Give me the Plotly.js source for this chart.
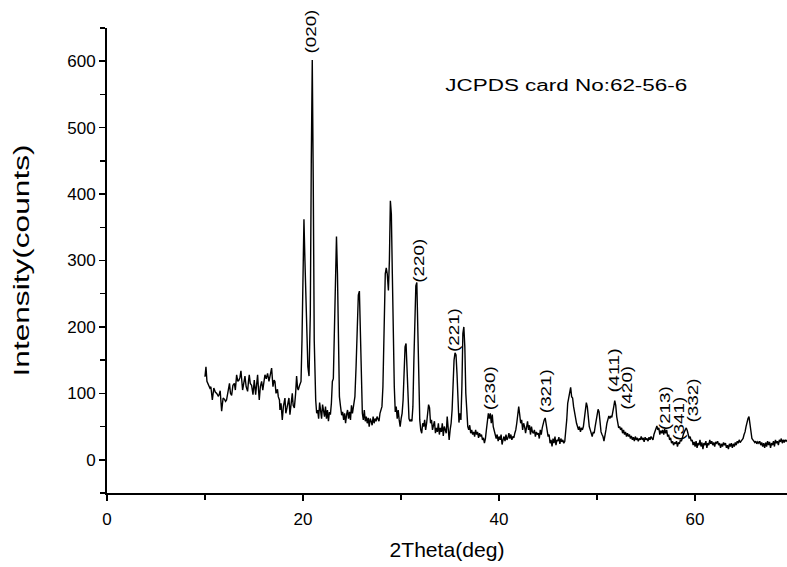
<!DOCTYPE html>
<html>
<head>
<meta charset="utf-8">
<script src="https://cdn.plot.ly/plotly-3.0.1.min.js"></script>
<style>html,body{margin:0;padding:0;background:#fff;}#chart{width:787px;height:567px;}</style>
</head>
<body>
<div id="chart"></div>
<script>
const twoTheta = [
10.00,10.10,10.20,10.35,10.50,10.60,10.75,10.90,11.05,11.20,
11.35,11.45,11.55,11.70,11.85,12.00,12.10,12.20,12.35,12.50,
12.60,12.72,12.85,13.00,13.10,13.23,13.35,13.47,13.57,13.67,
13.84,13.95,14.08,14.20,14.35,14.45,14.52,14.62,14.76,14.90,
15.03,15.17,15.30,15.37,15.47,15.54,15.65,15.78,15.90,16.00,
16.12,16.25,16.39,16.53,16.65,16.80,16.94,17.05,17.14,17.25,
17.31,17.40,17.48,17.60,17.65,17.76,17.89,18.00,18.16,18.25,
18.37,18.47,18.57,18.67,18.80,18.91,19.00,19.12,19.25,19.35,
19.45,19.52,19.65,19.80,19.90,20.00,20.10,20.20,20.35,20.50,
20.62,20.75,20.85,20.95,21.05,21.15,21.30,21.40,21.50,21.60,
21.70,21.80,21.90,22.00,22.10,22.20,22.30,22.40,22.50,22.60,
22.70,22.80,22.90,23.00,23.10,23.20,23.30,23.42,23.52,23.62,
23.72,23.82,23.95,24.05,24.15,24.25,24.35,24.45,24.55,24.65,
24.75,24.85,24.95,25.05,25.15,25.30,25.42,25.55,25.65,25.76,
25.86,25.96,26.06,26.16,26.26,26.36,26.46,26.56,26.66,26.76,
26.86,26.96,27.06,27.16,27.26,27.36,27.46,27.56,27.66,27.76,
27.86,27.96,28.06,28.16,28.28,28.40,28.50,28.60,28.72,28.82,
28.92,29.02,29.12,29.22,29.32,29.42,29.52,29.62,29.72,29.82,
29.92,30.02,30.12,30.22,30.32,30.42,30.52,30.62,30.72,30.82,
30.92,31.02,31.12,31.22,31.32,31.42,31.52,31.62,31.72,31.82,
31.92,32.02,32.12,32.22,32.32,32.42,32.52,32.62,32.72,32.82,
32.92,33.02,33.12,33.22,33.32,33.42,33.52,33.62,33.72,33.82,
33.92,34.02,34.12,34.22,34.32,34.42,34.52,34.62,34.72,34.82,
34.92,35.02,35.12,35.22,35.32,35.42,35.52,35.62,35.72,35.82,
35.92,36.02,36.12,36.22,36.32,36.42,36.52,36.62,36.72,36.82,
36.92,37.02,37.12,37.22,37.32,37.42,37.52,37.62,37.72,37.82,
37.92,38.02,38.12,38.22,38.32,38.42,38.52,38.62,38.72,38.82,
38.92,39.02,39.12,39.22,39.32,39.42,39.52,39.62,39.72,39.82,
39.92,40.02,40.12,40.22,40.32,40.42,40.52,40.62,40.72,40.82,
40.92,41.02,41.12,41.22,41.32,41.42,41.52,41.62,41.72,41.82,
41.92,42.02,42.12,42.22,42.32,42.42,42.52,42.62,42.72,42.82,
42.92,43.02,43.12,43.22,43.32,43.42,43.52,43.62,43.72,43.82,
43.92,44.02,44.12,44.22,44.32,44.42,44.52,44.62,44.72,44.82,
44.92,45.02,45.12,45.22,45.32,45.42,45.52,45.62,45.72,45.82,
45.92,46.02,46.12,46.22,46.32,46.42,46.52,46.62,46.72,46.82,
46.92,47.02,47.12,47.22,47.32,47.42,47.52,47.62,47.72,47.82,
47.92,48.02,48.12,48.22,48.32,48.42,48.52,48.62,48.72,48.82,
48.92,49.02,49.12,49.22,49.32,49.42,49.52,49.62,49.72,49.82,
49.92,50.02,50.12,50.22,50.32,50.42,50.52,50.62,50.72,50.82,
50.92,51.02,51.12,51.22,51.32,51.42,51.52,51.62,51.72,51.82,
51.92,52.02,52.12,52.22,52.32,52.42,52.52,52.62,52.72,52.82,
52.92,53.02,53.12,53.22,53.32,53.42,53.52,53.62,53.72,53.82,
53.92,54.02,54.12,54.22,54.32,54.42,54.52,54.62,54.72,54.82,
54.92,55.02,55.12,55.22,55.32,55.42,55.52,55.62,55.72,55.82,
55.92,56.02,56.12,56.22,56.32,56.42,56.52,56.62,56.72,56.82,
56.92,57.02,57.12,57.22,57.32,57.42,57.52,57.62,57.72,57.82,
57.92,58.02,58.12,58.22,58.32,58.42,58.52,58.62,58.72,58.82,
58.92,59.02,59.12,59.22,59.32,59.42,59.52,59.62,59.72,59.82,
59.92,60.02,60.12,60.22,60.32,60.42,60.52,60.62,60.72,60.82,
60.92,61.02,61.12,61.22,61.32,61.42,61.52,61.62,61.72,61.82,
61.92,62.02,62.12,62.22,62.32,62.42,62.52,62.62,62.72,62.82,
62.92,63.02,63.12,63.22,63.32,63.42,63.52,63.62,63.72,63.82,
63.92,64.02,64.12,64.22,64.32,64.42,64.52,64.62,64.72,64.82,
64.92,65.02,65.12,65.22,65.32,65.42,65.52,65.62,65.72,65.82,
65.92,66.02,66.12,66.22,66.32,66.42,66.52,66.62,66.72,66.82,
66.92,67.02,67.12,67.22,67.32,67.42,67.52,67.62,67.72,67.82,
67.92,68.02,68.12,68.22,68.32,68.42,68.52,68.62,68.72,68.82,
68.92,69.02,69.12,69.22,69.32,69.42
];
const counts = [
125,140,118,113,108,110,90,108,102,100,
96,98,104,73,93,91,88,90,105,115,
100,97,112,115,105,128,118,120,124,134,
105,118,126,110,103,120,128,115,112,98,
120,98,115,128,104,90,110,118,105,120,
128,122,130,118,125,138,110,120,118,100,
103,106,95,90,75,85,60,80,93,70,
78,90,93,68,85,100,82,78,100,126,
108,105,112,118,180,300,362,300,200,140,
126,220,450,602,420,180,90,70,75,62,
86,68,62,83,70,65,80,62,75,58,
72,68,85,118,122,200,300,336,280,160,
95,82,67,72,60,70,55,68,75,62,
72,60,82,70,78,95,140,230,248,254,
200,110,70,60,75,58,65,55,63,50,
62,58,52,65,55,62,58,65,60,58,
70,75,80,110,200,280,289,280,255,300,
390,370,280,180,110,72,80,62,75,60,
50,62,70,90,140,170,175,140,90,62,
58,60,58,80,150,240,262,267,200,110,
60,45,40,55,50,60,45,55,75,83,
78,55,60,45,52,58,40,48,42,55,
38,48,42,55,36,50,45,40,65,38,
30,45,55,75,120,150,161,158,130,75,
56,70,60,110,190,200,170,100,60,50,
45,52,40,45,38,42,35,45,38,42,
33,40,35,38,30,33,25,32,45,60,
70,62,70,55,68,50,45,40,32,38,
28,35,30,38,23,30,35,28,38,30,
33,40,32,38,30,35,33,40,45,55,
70,80,68,55,60,45,55,50,40,48,
58,45,52,38,50,42,40,45,35,42,
38,40,32,45,38,48,55,60,63,52,
45,35,38,25,30,20,32,25,35,22,
30,28,34,24,32,27,30,25,28,40,
60,85,95,100,109,95,93,80,70,65,
55,50,45,50,42,48,45,50,60,75,
86,80,62,50,45,38,35,42,40,50,
60,70,76,72,55,42,38,35,28,35,
45,55,62,66,62,66,64,70,80,89,
82,65,55,48,50,45,48,40,45,38,
42,35,40,35,38,32,36,30,34,28,
35,30,33,28,32,30,35,30,33,27,
34,30,32,28,34,30,35,32,30,38,
42,48,51,45,48,38,44,40,45,38,
46,40,45,35,38,30,33,25,28,22,
26,24,28,20,26,24,30,28,35,38,
42,45,48,44,38,32,35,28,30,22,
27,20,28,18,25,22,30,20,26,16,
25,22,28,18,25,22,30,24,28,22,
26,20,27,25,28,22,25,18,24,20,
26,22,25,18,22,16,24,20,25,18,
24,20,26,22,28,25,30,26,28,30,
32,38,42,50,58,62,65,55,42,32,
30,28,26,28,24,27,25,28,22,26,
20,25,18,26,20,28,22,27,18,25,
22,28,20,30,25,28,22,30,27,32,
25,30,26,30,28,30
];

const peakLabels = ["(020)", "(220)", "(221)", "(230)", "(321)", "(411)", "(420)", "(213)", "(341)", "(332)"];
const peakLabelX = [20.8, 31.75, 35.35, 39.1, 44.8, 51.7, 53.0, 56.95, 58.35, 59.7];
const peakLabelY = [645, 299, 195, 107, 104, 134, 108, 77, 62, 90];
const cardText = "JCPDS card No:62-56-6";

if (twoTheta.length !== counts.length) console.error("length mismatch", twoTheta.length, counts.length);

const FONT = "Liberation Sans, Arial, sans-serif";

const annotations = peakLabels.map((t, i) => ({
  x: peakLabelX[i], y: peakLabelY[i], xref: "x", yref: "y",
  text: t, showarrow: false, textangle: -90,
  xanchor: "center", yanchor: "middle",
  font: {family: FONT, size: 15, color: "#000"}
}));
annotations.push({
  x: 46.9, y: 563, xref: "x", yref: "y", text: cardText, showarrow: false,
  xanchor: "center", yanchor: "middle",
  font: {family: FONT, size: 16, color: "#000"}
});

const trace = {
  x: twoTheta, y: counts, type: "scatter", mode: "lines",
  line: {color: "#000", width: 1.4}, hoverinfo: "skip"
};

const layout = {
  width: 787, height: 567,
  margin: {l: 107, r: 0, t: 28, b: 74},
  paper_bgcolor: "#fff", plot_bgcolor: "#fff",
  showlegend: false,
  font: {family: FONT, size: 17, color: "#000"},
  xaxis: {
    range: [0, 69.4], showgrid: false, zeroline: false,
    showline: true, linecolor: "#000", linewidth: 2,
    ticks: "outside", ticklen: 6, tickwidth: 1.5, tickcolor: "#000",
    dtick: 20, tick0: 0, ticklabelstandoff: 4,
    minor: {dtick: 10, ticks: "outside", ticklen: 5, tickwidth: 1.5, tickcolor: "#000"},
    tickfont: {family: FONT, size: 17, color: "#000"},
    title: {text: "2Theta(deg)", font: {family: FONT, size: 21, color: "#000"}, standoff: 14}
  },
  yaxis: {
    range: [-50, 650], showgrid: false, zeroline: false,
    showline: true, linecolor: "#000", linewidth: 2,
    ticks: "outside", ticklen: 6, tickwidth: 1.5, tickcolor: "#000",
    dtick: 100, tick0: 0,
    minor: {dtick: 50, ticks: "outside", ticklen: 5, tickwidth: 1.5, tickcolor: "#000"},
    tickfont: {family: FONT, size: 17, color: "#000"},
    title: {text: "Intensity(counts)", font: {family: FONT, size: 22, color: "#000"}, standoff: 32}
  },
  annotations: annotations
};

function stretchText(el, len) {
  if (!el) return;
  el.setAttribute("textLength", len);
  el.setAttribute("lengthAdjust", "spacingAndGlyphs");
}

Plotly.newPlot("chart", [trace], layout, {displayModeBar: false, staticPlot: true}).then(gd => {
  stretchText(gd.querySelector(".ytitle"), 232);
  stretchText(gd.querySelector(".xtitle"), 115);
  gd.querySelectorAll(".annotation-text").forEach(t => {
    stretchText(t, t.textContent.indexOf("JCPDS") === 0 ? 242 : 44);
  });
});
</script>
</body>
</html>
